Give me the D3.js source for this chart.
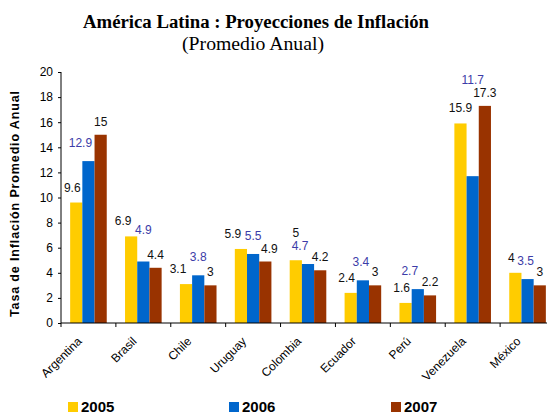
<!DOCTYPE html>
<html lang="es">
<head>
<meta charset="UTF-8">
<title>América Latina : Proyecciones de Inflación</title>
<script src="https://d3js.org/d3.v7.min.js"></script>
<style>
    body { margin: 0; background: #fff; overflow: hidden; }
    svg { display: block; }
    .tick text { font-family: Arial, "Liberation Sans", sans-serif; }
</style>
</head>
<body>
<svg id="chart" width="547" height="413"></svg>
<script>
    const countries = ["Argentina", "Brasil", "Chile", "Uruguay", "Colombia", "Ecuador", "Perú", "Venezuela", "México"];
    const years = ["2005", "2006", "2007"];
    const values2005 = [9.6, 6.9, 3.1, 5.9, 5, 2.4, 1.6, 15.9, 4];
    const values2006 = [12.9, 4.9, 3.8, 5.5, 4.7, 3.4, 2.7, 11.7, 3.5];
    const values2007 = [15, 4.4, 3, 4.9, 4.2, 3, 2.2, 17.3, 3];
    const yTicks = [0, 2, 4, 6, 8, 10, 12, 14, 16, 18, 20];

    const colors = ["#FFCC00", "#0066CC", "#993300"];
    const labelColors = ["#111", "#3c3ca8", "#111"];
    const labelLift = [11, 14, 9];

    const series = [values2005, values2006, values2007];
    const svg = d3.select("#chart");
    const margin = { left: 61, top: 72 };
    const plotW = 494; // 9 categories, the right end gets cut off by the window
    const y0 = 323;

    const x = d3.scaleBand().domain(countries).range([margin.left, margin.left + plotW]);
    const inner = d3.scaleBand().domain(years).range([0, x.bandwidth()]).paddingInner(0).paddingOuter(0.75);
    const y = d3.scaleLinear().domain([0, 20]).range([y0, margin.top]);

    // titles
    svg.append("text")
        .attr("x", 256).attr("y", 28)
        .attr("text-anchor", "middle")
        .attr("font-family", "'Liberation Serif', 'DejaVu Serif', serif")
        .attr("font-weight", "bold").attr("font-size", 18)
        .attr("textLength", 346).attr("lengthAdjust", "spacingAndGlyphs")
        .text("América Latina : Proyecciones de Inflación");
    svg.append("text")
        .attr("x", 253).attr("y", 50)
        .attr("text-anchor", "middle")
        .attr("font-family", "'Liberation Serif', 'DejaVu Serif', serif")
        .attr("font-size", 18)
        .attr("textLength", 142).attr("lengthAdjust", "spacingAndGlyphs")
        .text("(Promedio Anual)");

    // y axis title
    svg.append("text")
        .attr("transform", "translate(19,204) rotate(-90)")
        .attr("text-anchor", "middle")
        .attr("font-family", "Arial, 'Liberation Sans', sans-serif")
        .attr("font-weight", "bold").attr("font-size", 12.5)
        .attr("textLength", 226).attr("lengthAdjust", "spacing")
        .text("Tasa de Inflación Promedio Anual");

    // bars
    const groups = svg.append("g").selectAll("g")
        .data(countries)
        .join("g")
        .attr("transform", d => `translate(${x(d)},0)`);

    groups.selectAll("rect")
        .data((d, i) => years.map((yr, s) => ({ yr, s, v: series[s][i] })))
        .join("rect")
        .attr("x", d => inner(d.yr))
        .attr("width", inner.bandwidth())
        .attr("y", d => y(d.v))
        .attr("height", d => y0 - y(d.v))
        .attr("fill", d => colors[d.s]);

    // value labels: placed right to left, nudged sideways or upward so they
    // don't sit on a neighbouring bar or another label
    function overlaps(a, b) {
        return a.x0 < b.x1 && a.x1 > b.x0 && a.y0 < b.y1 && a.y1 > b.y0;
    }
    groups.each(function (c, i) {
        const g = d3.select(this);
        const bars = years.map((yr, s) => ({
            x0: inner(yr), x1: inner(yr) + inner.bandwidth(), y0: y(series[s][i]), y1: y0
        }));
        const placed = [];
        for (let s = years.length - 1; s >= 0; s--) {
            const v = series[s][i];
            const t = g.append("text")
                .attr("text-anchor", "middle")
                .attr("font-family", "Arial, 'Liberation Sans', sans-serif")
                .attr("font-size", 12)
                .attr("fill", labelColors[s])
                .text(v);
            const w = t.node().getComputedTextLength();
            const cx = inner(years[s]) + inner.bandwidth() / 2;
            const base = y(v) - labelLift[s];
            const boxAt = (dx, dy) => ({
                x0: cx + dx - w / 2 - 1, x1: cx + dx + w / 2 + 1,
                y0: base + dy - 10, y1: base + dy + 2
            });
            const free = b => !bars.some(r => overlaps(b, r)) && !placed.some(p => overlaps(b, p));
            let pos = null;
            for (const dx of [0, -2, 2, -4, 4, -6, 6, -8, 8]) {
                if (free(boxAt(dx, 0))) { pos = [dx, 0]; break; }
            }
            for (let dy = -1; !pos && dy > -80; dy--) {
                if (free(boxAt(0, dy))) pos = [0, dy];
            }
            if (!pos) pos = [0, 0];
            placed.push(boxAt(pos[0], pos[1]));
            t.attr("x", cx + pos[0]).attr("y", base + pos[1]);
        }
    });

    // y axis
    const yAxis = svg.append("g")
        .attr("transform", `translate(${margin.left},0)`)
        .call(d3.axisLeft(y).tickValues(yTicks).tickSize(3).tickPadding(5));
    yAxis.selectAll("text").attr("font-size", 12).attr("fill", "#000");
    yAxis.selectAll("line, path").attr("stroke", "#000");
    yAxis.select(".domain").attr("d", `M0,${y0}V${margin.top}`);

    // x axis
    const xAxis = svg.append("g").attr("transform", `translate(0,${y0})`);
    xAxis.append("line")
        .attr("x1", margin.left).attr("x2", margin.left + plotW)
        .attr("stroke", "#000");
    xAxis.selectAll("line.tk")
        .data(countries)
        .join("line")
        .attr("class", "tk")
        .attr("x1", d => x(d)).attr("x2", d => x(d))
        .attr("y1", 0).attr("y2", 4)
        .attr("stroke", "#000");
    xAxis.selectAll("text")
        .data(countries)
        .join("text")
        .attr("transform", d => `translate(${x(d) + x.bandwidth() / 2 - 6},19) rotate(-45)`)
        .attr("text-anchor", "end")
        .attr("font-family", "Arial, 'Liberation Sans', sans-serif")
        .attr("font-size", 12)
        .text(d => d);

    // legend
    const legendX = [68, 229, 391];
    const legend = svg.append("g").selectAll("g")
        .data(years)
        .join("g")
        .attr("transform", (d, i) => `translate(${legendX[i]},402)`);
    legend.append("rect")
        .attr("width", 10).attr("height", 10)
        .attr("fill", (d, i) => colors[i]);
    legend.append("text")
        .attr("x", 13).attr("y", 10)
        .attr("font-family", "Arial, 'Liberation Sans', sans-serif")
        .attr("font-weight", "bold").attr("font-size", 15)
        .text(d => d);
</script>
</body>
</html>
